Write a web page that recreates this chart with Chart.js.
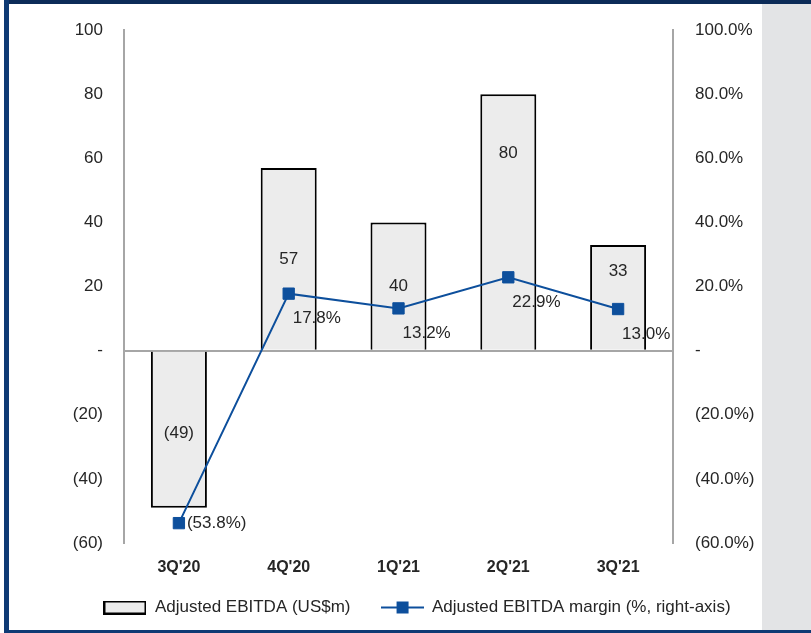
<!DOCTYPE html>
<html>
<head>
<meta charset="utf-8">
<script src="https://cdn.jsdelivr.net/npm/chart.js@4.4.0/dist/chart.umd.min.js"></script>
<style>
html, body { margin: 0; padding: 0; background: #fff; overflow: hidden; }
#frame { position: relative; width: 811px; height: 633px; overflow: hidden; background: #fff; }
#wrap { position: absolute; left: 8px; top: -2px; width: 818px; height: 632px; }
.topbar { position: absolute; left: 4px; top: 0; width: 807px; height: 4px; background: #0c2b58; }
.leftbar { position: absolute; left: 4px; top: 0; width: 5px; height: 633px; background: #0e3a74; }
.bottombar { position: absolute; left: 4px; top: 630px; width: 807px; height: 3px; background: #0e3a74; }
.side { position: absolute; left: 762px; top: 4px; width: 49px; height: 626px; background: #e3e4e6; }
</style>
</head>
<body>
<div id="frame">
  <div id="wrap"><canvas id="ebitdaChart"></canvas></div>
  <div class="side"></div>
  <div class="topbar"></div>
  <div class="leftbar"></div>
  <div class="bottombar"></div>
</div>
<script>
const quarters = ["3Q'20", "4Q'20", "1Q'21", "2Q'21", "3Q'21"];
const ebitda = [-49, 57, 40, 80, 33];
const margin = [-53.8, 17.8, 13.2, 22.9, 13.0];
const leftTicks = [-60, -40, -20, 0, 20, 40, 60, 80, 100];

const FONT = '"Liberation Sans", Arial, sans-serif';
const TEXT = '#262626';
const BLUE = '#0d4f9c';
const AXIS = '#a6a6a6';

function paren(v, digits) {
    const s = Math.abs(v).toFixed(digits);
    return v < 0 ? '(' + s + ')' : s;
}

// legend icons
function barIcon() {
    const c = document.createElement('canvas');
    c.width = 43; c.height = 14;
    const g = c.getContext('2d');
    g.fillStyle = '#ececec';
    g.fillRect(1, 1, 41, 12);
    g.strokeStyle = '#000';
    g.lineWidth = 2;
    g.strokeRect(1, 1, 41, 12);
    return c;
}
function lineIcon() {
    const c = document.createElement('canvas');
    c.width = 43; c.height = 14;
    const g = c.getContext('2d');
    g.strokeStyle = BLUE;
    g.lineWidth = 2;
    g.beginPath(); g.moveTo(0, 7); g.lineTo(43, 7); g.stroke();
    g.fillStyle = BLUE;
    g.fillRect(16, 1, 12, 12);
    return c;
}

// label spots inside bars, fraction of bar length from its outer end
const barLabelSpot = [0.52, 0.5, 0.5, 0.23, 0.25];

const valueLabels = {
    id: 'valueLabels',
    afterDatasetsDraw(chart) {
        const ctx = chart.ctx;
        ctx.save();
        ctx.font = '17px ' + FONT;
        ctx.fillStyle = TEXT;
        ctx.textBaseline = 'middle';

        ctx.textAlign = 'center';
        chart.getDatasetMeta(0).data.forEach((bar, i) => {
            const len = bar.base - bar.y;
            const y = ebitda[i] >= 0 ? bar.y + len * barLabelSpot[i] : bar.base - len * barLabelSpot[i];
            ctx.fillText(paren(ebitda[i], 0), bar.x, y);
        });

        ctx.textAlign = 'left';
        chart.getDatasetMeta(1).data.forEach((pt, i) => {
            if (margin[i] < 0) {
                ctx.fillText('(' + Math.abs(margin[i]).toFixed(1) + '%)', pt.x + 8, pt.y);
            } else {
                ctx.fillText(margin[i].toFixed(1) + '%', pt.x + 4, pt.y + 25);
            }
        });
        ctx.restore();
    }
};

const ctx = document.getElementById('ebitdaChart').getContext('2d');
new Chart(ctx, {
    type: 'bar',
    data: {
        labels: quarters,
        datasets: [
            {
                type: 'bar',
                label: 'Adjusted EBITDA (US$m)',
                data: ebitda,
                backgroundColor: '#ececec',
                borderColor: '#000',
                borderWidth: 2,
                borderSkipped: 'start',
                categoryPercentage: 1,
                barPercentage: 0.51,
                yAxisID: 'y',
                order: 1
            },
            {
                type: 'line',
                label: 'Adjusted EBITDA margin (%, right-axis)',
                data: margin,
                borderColor: BLUE,
                backgroundColor: BLUE,
                borderWidth: 2,
                pointStyle: 'rect',
                pointRadius: 8,
                pointBorderWidth: 1,
                tension: 0,
                yAxisID: 'y1',
                order: 0
            }
        ]
    },
    options: {
        responsive: true,
        maintainAspectRatio: false,
        animation: false,
        layout: { padding: { top: 0, bottom: 4, left: 0, right: 0 } },
        scales: {
            x: {
                grid: { display: false, drawTicks: false },
                border: { display: false },
                ticks: {
                    padding: 15,
                    color: TEXT,
                    font: { family: FONT, size: 16, weight: 'bold' }
                },
                afterFit(s) {
                    s.height = 26;
                    // labels hang below the short axis box, so don't clip them
                    s._computeLabelArea = () => null;
                }
            },
            y: {
                position: 'left',
                min: -60,
                max: 100,
                afterBuildTicks(s) { s.ticks = leftTicks.map(v => ({ value: v })); },
                grid: {
                    drawTicks: false,
                    lineWidth: 2,
                    color: c => c.tick && c.tick.value === 0 ? AXIS : 'rgba(0,0,0,0)'
                },
                border: { display: true, color: AXIS, width: 2 },
                ticks: {
                    padding: 21,
                    color: TEXT,
                    font: { family: FONT, size: 17 },
                    callback: v => v === 0 ? '-' : paren(v, 0)
                },
                afterFit(s) { s.width = 116; }
            },
            y1: {
                position: 'right',
                min: -60,
                max: 100,
                afterBuildTicks(s) { s.ticks = leftTicks.map(v => ({ value: v })); },
                grid: { display: false, drawTicks: false },
                border: { display: true, color: AXIS, width: 2 },
                ticks: {
                    padding: 22,
                    color: TEXT,
                    font: { family: FONT, size: 17 },
                    callback: v => v === 0 ? '-' : (v < 0 ? '(' + Math.abs(v).toFixed(1) + '%)' : v.toFixed(1) + '%')
                },
                afterFit(s) { s.width = 153; }
            }
        },
        plugins: {
            legend: {
                position: 'bottom',
                labels: {
                    usePointStyle: true,
                    pointStyleWidth: 43,
                    boxHeight: 14,
                    padding: 30,
                    color: TEXT,
                    font: { family: FONT, size: 17 },
                    generateLabels(chart) {
                        const icons = [barIcon(), lineIcon()];
                        return chart.data.datasets.map((ds, i) => ({
                            text: ds.label,
                            pointStyle: icons[i],
                            fillStyle: 'transparent',
                            strokeStyle: 'transparent',
                            lineWidth: 0,
                            fontColor: TEXT,
                            datasetIndex: i,
                            hidden: false
                        }));
                    }
                }
            },
            tooltip: { enabled: false }
        }
    },
    plugins: [valueLabels]
});
</script>
</body>
</html>
